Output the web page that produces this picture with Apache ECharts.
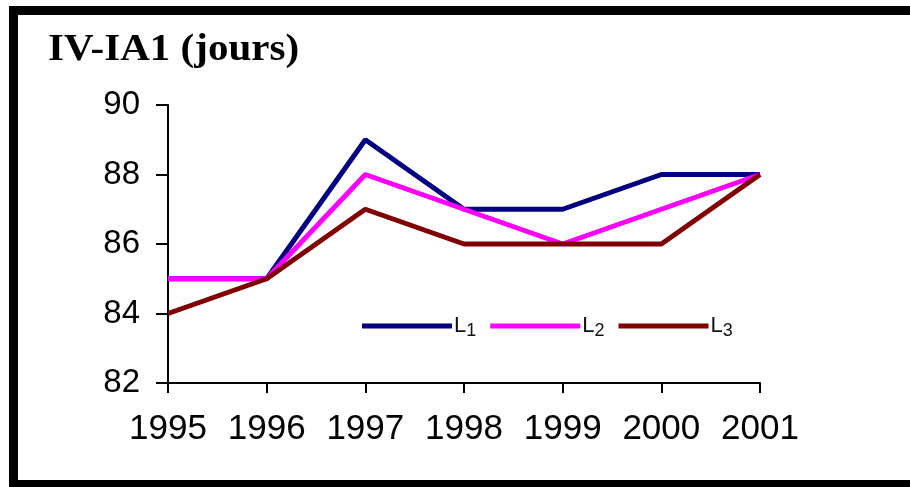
<!DOCTYPE html>
<html>
<head>
<meta charset="utf-8">
<script src="https://cdn.jsdelivr.net/npm/echarts@6/dist/echarts.min.js"></script>
<style>
  html, body { margin: 0; padding: 0; background: #fff; }
  #container { width: 910px; height: 487px; }
</style>
</head>
<body>
<div id="container"></div>
<script>
var years = ['1995', '1996', '1997', '1998', '1999', '2000', '2001'];
var yTicks = [82, 84, 86, 88, 90];
var l1Data = [85, 85, 89, 87, 87, 88, 88];   // L1 bleu
var l2Data = [85, 85, 88, 87, 86, 87, 88];   // L2 magenta
var l3Data = [84, 85, 87, 86, 86, 86, 88];   // L3 marron
var seriesNames = ['L1', 'L2', 'L3'];
var seriesColors = ['#000080', '#ff00ff', '#800000'];

var myChart = echarts.init(document.getElementById('container'));

var lineSeries = [l1Data, l2Data, l3Data].map(function (d, i) {
  return {
    name: seriesNames[i],
    type: 'line',
    data: d,
    symbol: 'none',
    color: seriesColors[i],
    lineStyle: { width: 5, color: seriesColors[i] },
    z: 2 + i
  };
});

var option = {
  animation: false,
  backgroundColor: '#fff',
  legend: {
    data: seriesNames,
    left: 357,
    top: 310,
    itemWidth: 90,
    itemHeight: 5,
    itemGap: 14,
    icon: 'rect',
    formatter: function (name) {
      return 'L{sub|' + name.substr(1) + '}';
    },
    textStyle: {
      fontFamily: 'Liberation Sans',
      fontSize: 22,
      color: '#111',
      padding: [0, 0, 0, -3],
      rich: {
        sub: { fontFamily: 'Liberation Sans', fontSize: 18, color: '#111', padding: [10, 0, 0, 0] }
      }
    }
  },
  grid: { left: 168, right: 150, top: 105, bottom: 104 },
  xAxis: {
    type: 'category',
    data: years,
    boundaryGap: false,
    axisLine: { lineStyle: { color: '#000', width: 2 } },
    axisTick: { show: true, length: 10, lineStyle: { color: '#000', width: 2 } },
    axisLabel: {
      color: '#000',
      fontFamily: 'Liberation Sans',
      fontSize: 35,
      margin: 29,
      interval: 0
    },
    splitLine: { show: false }
  },
  yAxis: {
    type: 'value',
    min: yTicks[0],
    max: yTicks[yTicks.length - 1],
    interval: 2,
    axisLine: { show: true, lineStyle: { color: '#000', width: 2 } },
    axisTick: { show: true, length: 12, lineStyle: { color: '#000', width: 2 } },
    axisLabel: {
      color: '#000',
      fontFamily: 'Liberation Sans',
      fontSize: 33,
      margin: 28
    },
    splitLine: { show: false }
  },
  graphic: [{
    type: 'text',
    left: 48,
    top: 31,
    scaleX: 1.08,
    style: {
      text: 'IV-IA1 (jours)',
      fontFamily: 'Liberation Serif',
      fontWeight: 'bold',
      fontSize: 38,
      fill: '#000'
    },
    silent: true
  }, {
    type: 'rect',
    shape: { x: 13.5, y: 10.5, width: 910, height: 474 },
    style: { fill: null, stroke: '#000', lineWidth: 9 },
    silent: true,
    z: 100
  }],
  series: lineSeries
};

myChart.setOption(option);
</script>
</body>
</html>
